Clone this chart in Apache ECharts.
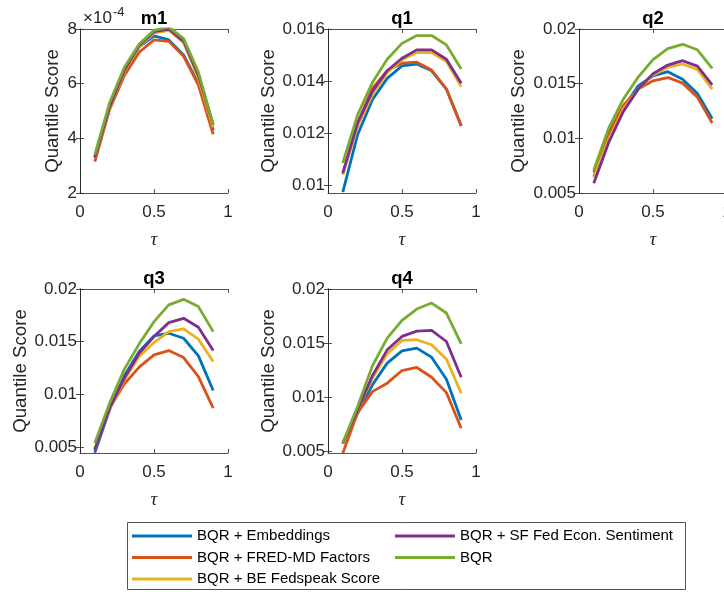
<!DOCTYPE html>
<html>
<head>
<meta charset="utf-8">
<script src="https://cdn.jsdelivr.net/npm/echarts@6/dist/echarts.min.js"></script>
<style>html,body{margin:0;padding:0;background:#fff}#c{width:724px;height:592px}</style>
</head>
<body>
<div id="c"></div>
<script>
// ---------------- data ----------------
const tau = [0.1, 0.2, 0.3, 0.4, 0.5, 0.6, 0.7, 0.8, 0.9];
const seriesNames = ['BQR + Embeddings', 'BQR + FRED-MD Factors', 'BQR + BE Fedspeak Score', 'BQR + SF Fed Econ. Sentiment', 'BQR'];
const panelTitles = ['m1', 'q1', 'q2', 'q3', 'q4'];

// m1 values in units of 1e-4
const m1Emb  = [3.3, 5.1, 6.4, 7.35, 7.75, 7.6, 7.05, 6.0, 4.3];
const m1Fred = [3.15, 5.05, 6.3, 7.15, 7.6, 7.55, 7.0, 5.95, 4.15];
const m1Be   = [3.3, 5.1, 6.45, 7.35, 7.85, 7.95, 7.5, 6.2, 4.4];
const m1Sf   = [3.3, 5.15, 6.5, 7.4, 7.9, 8.0, 7.55, 6.3, 4.5];
const m1Bqr  = [3.4, 5.3, 6.6, 7.45, 7.95, 8.08, 7.65, 6.42, 4.5];

const q1Emb  = [0.00975, 0.01195, 0.01329, 0.01411, 0.01459, 0.01466, 0.0144, 0.0137, 0.0123];
const q1Fred = [0.01045, 0.0124, 0.01373, 0.01441, 0.01469, 0.01473, 0.01443, 0.0137, 0.01229];
const q1Be   = [0.01042, 0.01227, 0.01348, 0.01433, 0.01482, 0.0151, 0.0151, 0.01475, 0.0138];
const q1Sf   = [0.01048, 0.0124, 0.01361, 0.0144, 0.01488, 0.0152, 0.0152, 0.01484, 0.01392];
const q1Bqr  = [0.01087, 0.01271, 0.01395, 0.01484, 0.01545, 0.01575, 0.01575, 0.01539, 0.01447];

const q2Emb  = [0.0065, 0.0102, 0.0128, 0.0148, 0.0157, 0.0161, 0.0154, 0.0141, 0.0118];
const q2Fred = [0.0069, 0.0105, 0.0130, 0.0145, 0.01526, 0.01556, 0.01505, 0.01377, 0.0114];
const q2Be   = [0.0064, 0.0099, 0.0127, 0.0145, 0.0158, 0.0165, 0.0168, 0.0163, 0.0145];
const q2Sf   = [0.0059, 0.0096, 0.01246, 0.0145, 0.0159, 0.0167, 0.0171, 0.0166, 0.0149];
const q2Bqr  = [0.0071, 0.0109, 0.0136, 0.0156, 0.0172, 0.0182, 0.0186, 0.0181, 0.0164];

const q3Emb  = [0.00448, 0.00855, 0.01177, 0.01407, 0.01555, 0.0158, 0.01533, 0.01366, 0.01038];
const q3Fred = [0.00476, 0.0087, 0.01101, 0.01259, 0.01375, 0.01416, 0.0135, 0.0117, 0.0087];
const q3Be   = [0.0049, 0.00861, 0.01139, 0.0136, 0.01492, 0.01596, 0.01621, 0.01524, 0.01312];
const q3Sf   = [0.00476, 0.0087, 0.01155, 0.01391, 0.01549, 0.01681, 0.01722, 0.01637, 0.01416];
const q3Bqr  = [0.0054, 0.00918, 0.0124, 0.0148, 0.0169, 0.01849, 0.01902, 0.01833, 0.01596];

const q4Emb  = [0.00574, 0.00852, 0.01114, 0.01315, 0.01429, 0.01454, 0.0137, 0.01167, 0.0079];
const q4Fred = [0.00482, 0.00858, 0.01052, 0.0113, 0.01247, 0.01275, 0.01185, 0.01043, 0.00713];
const q4Be   = [0.0057, 0.0088, 0.01176, 0.01401, 0.01525, 0.01531, 0.01485, 0.01352, 0.01037];
const q4Sf   = [0.00574, 0.00883, 0.01198, 0.01438, 0.01562, 0.01611, 0.01617, 0.01515, 0.01185];
const q4Bqr  = [0.0058, 0.00914, 0.0129, 0.01546, 0.0171, 0.01815, 0.0187, 0.01778, 0.01494];

// axis ranges / ticks
const xTicks = [0, 0.5, 1];
const xTickLabels = ['0', '0.5', '1'];
const m1YTicks = [2, 4, 6, 8];            const m1YLabels = ['2', '4', '6', '8'];
const q1YTicks = [0.01, 0.012, 0.014, 0.016]; const q1YLabels = ['0.01', '0.012', '0.014', '0.016'];
const qYTicks = [0.005, 0.01, 0.015, 0.02];   const qYLabels = ['0.005', '0.01', '0.015', '0.02'];
const yMins = [2, 0.00972, 0.005, 0.00445, 0.00485];
const yMaxs = [8, 0.016, 0.02, 0.02, 0.02];

// ---------------- layout / style ----------------
const panelData = [
  [m1Emb, m1Fred, m1Be, m1Sf, m1Bqr],
  [q1Emb, q1Fred, q1Be, q1Sf, q1Bqr],
  [q2Emb, q2Fred, q2Be, q2Sf, q2Bqr],
  [q3Emb, q3Fred, q3Be, q3Sf, q3Bqr],
  [q4Emb, q4Fred, q4Be, q4Sf, q4Bqr]
];
const panelYTicks = [m1YTicks, q1YTicks, qYTicks, qYTicks, qYTicks];
const panelYLabels = [m1YLabels, q1YLabels, qYLabels, qYLabels, qYLabels];
const colors = ['#0072BD', '#D95319', '#EDB120', '#7E2F8E', '#77AC30'];
const grids = [
  {left: 80, top: 29, width: 148, height: 164},
  {left: 328, top: 29, width: 148, height: 164},
  {left: 579, top: 29, width: 148, height: 164},
  {left: 80, top: 289, width: 148, height: 164},
  {left: 328, top: 289, width: 148, height: 164}
];
const nameGaps = [18, 50, 51, 50, 50];
const AX = '#262626';
const FONT = "'Liberation Sans', Arial, sans-serif";

function labelFor(ticks, labels) {
  return function (v) {
    for (let i = 0; i < ticks.length; i++) if (Math.abs(ticks[i] - v) < 1e-9) return labels[i];
    return '';
  };
}

const legendCommon = {
  orient: 'vertical', top: 528, itemWidth: 60, itemHeight: 3, itemGap: 5.5, padding: 0,
  icon: 'rect', selectedMode: false,
  textStyle: {fontFamily: FONT, fontSize: 15, color: '#000', lineHeight: 16}
};

const option = {
  animation: false,
  backgroundColor: '#fff',
  grid: [], xAxis: [], yAxis: [], series: [],
  legend: [
    Object.assign({left: 132, data: seriesNames.slice(0, 3)}, legendCommon),
    Object.assign({left: 395, data: seriesNames.slice(3)}, legendCommon)
  ],
  graphic: []
};

grids.forEach((g, p) => {
  option.grid.push(Object.assign({containLabel: false, outerBoundsMode: 'none'}, g));
  const axisLine = {show: true, lineStyle: {color: AX, width: 0.8}};
  const axisTickX = {show: true, inside: true, length: 4, lineStyle: {color: AX, width: 0.8}, customValues: xTicks};
  const axisTickY = {show: true, inside: true, length: 4, lineStyle: {color: AX, width: 0.8}, customValues: panelYTicks[p]};
  // bottom x
  option.xAxis.push({
    gridIndex: p, type: 'value', min: 0, max: 1, position: 'bottom',
    axisLine, axisTick: axisTickX, splitLine: {show: false},
    axisLabel: {customValues: xTicks, formatter: labelFor(xTicks, xTickLabels), fontFamily: FONT, fontSize: 17, color: AX, margin: 11},
    name: 'τ', nameLocation: 'middle', nameGap: 37,
    nameTextStyle: {fontFamily: "'Liberation Serif', 'DejaVu Serif', serif", fontStyle: 'italic', fontSize: 19, color: AX}
  });
  // top x (box)
  option.xAxis.push({
    gridIndex: p, type: 'value', min: 0, max: 1, position: 'top',
    axisLine, axisTick: axisTickX, splitLine: {show: false}, axisLabel: {show: false}
  });
  // left y
  option.yAxis.push({
    gridIndex: p, type: 'value', min: yMins[p], max: yMaxs[p], position: 'left',
    axisLine, axisTick: axisTickY, splitLine: {show: false},
    axisLabel: {customValues: panelYTicks[p], formatter: labelFor(panelYTicks[p], panelYLabels[p]), fontFamily: FONT, fontSize: 17, color: AX, margin: 3},
    name: 'Quantile Score', nameLocation: 'middle', nameGap: nameGaps[p], nameRotate: 90,
    nameTextStyle: {fontFamily: FONT, fontSize: 18.7, color: AX}
  });
  // right y (box)
  option.yAxis.push({
    gridIndex: p, type: 'value', min: yMins[p], max: yMaxs[p], position: 'right',
    axisLine, axisTick: axisTickY, splitLine: {show: false}, axisLabel: {show: false}
  });
  panelData[p].forEach((vals, s) => {
    option.series.push({
      type: 'line', name: seriesNames[s], xAxisIndex: 2 * p, yAxisIndex: 2 * p,
      data: tau.map((t, i) => [t, vals[i]]),
      showSymbol: false, symbol: 'none', color: colors[s],
      lineStyle: {width: 2.8, color: colors[s]}, z: 2 + s
    });
  });
  option.graphic.push({
    type: 'text', x: g.left + g.width / 2, y: g.top - 1, silent: true,
    style: {text: panelTitles[p], align: 'center', verticalAlign: 'bottom', font: "bold 18.5px " + FONT, fill: '#000'}
  });
});

// exponent label for m1
option.graphic.push({
  type: 'text', x: 83, y: 27, silent: true,
  style: {text: '×10', align: 'left', verticalAlign: 'bottom', font: "17px " + FONT, fill: AX}
});
option.graphic.push({
  type: 'text', x: 113, y: 19, silent: true,
  style: {text: '-4', align: 'left', verticalAlign: 'bottom', font: "13px " + FONT, fill: AX}
});
// legend box
option.graphic.push({
  type: 'rect', silent: true, z: -1,
  shape: {x: 127.5, y: 522.5, width: 558, height: 67},
  style: {fill: '#fff', stroke: AX, lineWidth: 0.8}
});

const chart = echarts.init(document.getElementById('c'), null, {renderer: 'canvas'});
chart.setOption(option);
</script>
</body>
</html>
